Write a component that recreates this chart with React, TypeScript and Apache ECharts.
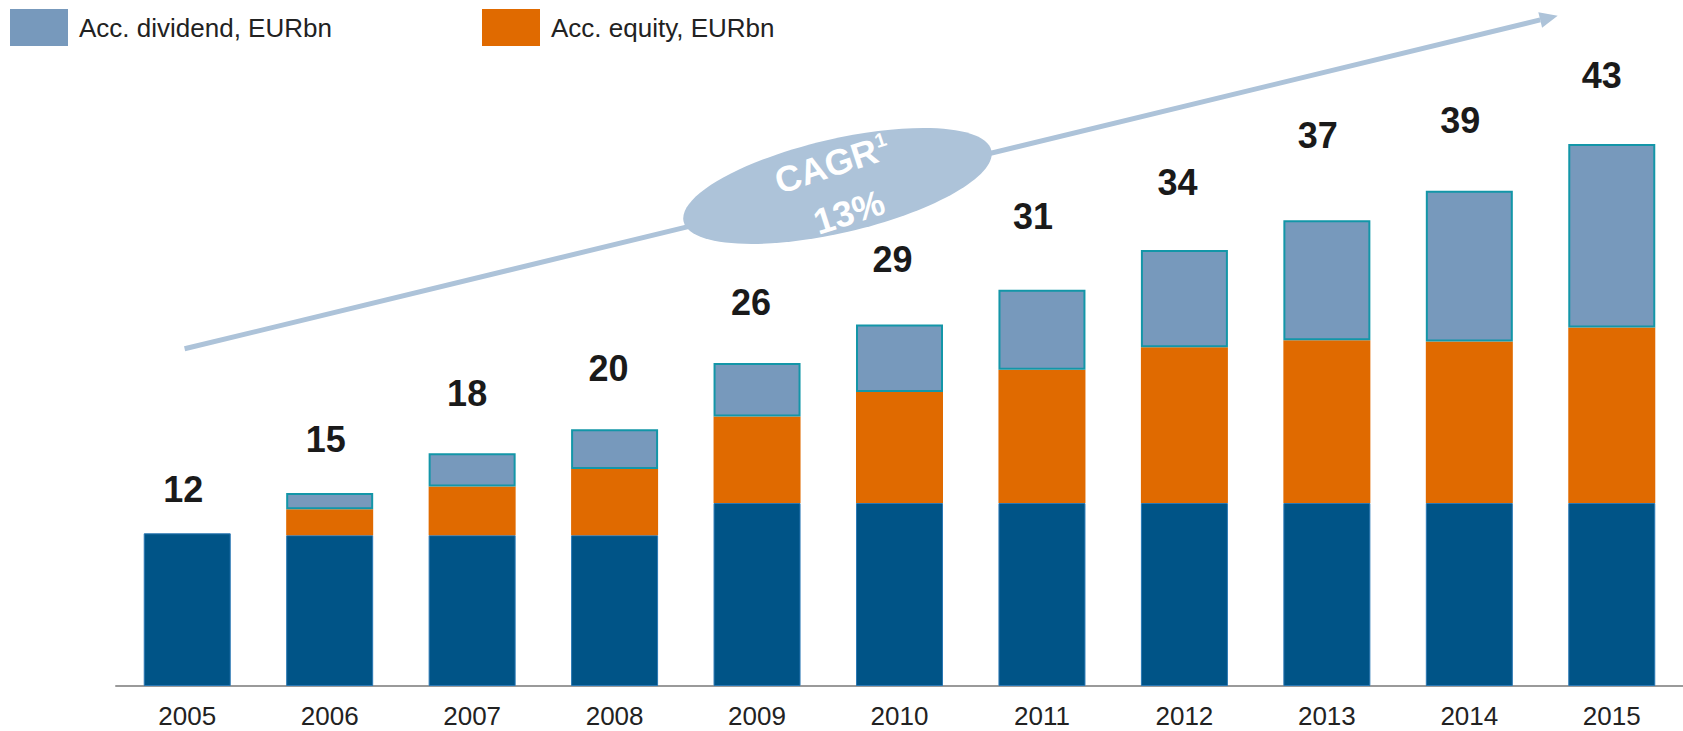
import React, { useEffect, useRef } from "react";
import * as echarts from "echarts";

// ---- data ----
const years = ["2005", "2006", "2007", "2008", "2009", "2010", "2011", "2012", "2013", "2014", "2015"];
const baseValues = [12.1, 11.95, 11.95, 11.95, 14.5, 14.5, 14.5, 14.5, 14.5, 14.5, 14.5];
const equityValues = [0, 2.05, 3.85, 5.25, 6.85, 8.8, 10.55, 12.35, 12.9, 12.8, 13.9];
const dividendValues = [0, 1.3, 2.65, 3.15, 4.25, 5.35, 6.35, 7.7, 9.5, 11.95, 14.55];
const totalLabels = [12, 15, 18, 20, 26, 29, 31, 34, 37, 39, 43];
const dividendName = "Acc. dividend, EURbn";
const equityName = "Acc. equity, EURbn";
const cagrTitle = "CAGR";
const cagrNote = "1";
const cagrValue = "13%";

// ---- label placement (style only) ----
const labelDistances = [26, 35, 42, 43, 42, 47, 55, 49, 67, 52, 50];
const labelShiftX = [-4, -4, -5, -6, -6, -7, -9, -7, -9, -9, -10];

const FONT = 'Arial, "Liberation Sans", Helvetica, sans-serif';
const C_BASE = "#005487";
const C_EQUITY = "#e06a00";
const C_DIV = "#7799bc";
const C_DIV_BORDER = "#1396a8";
const C_ARROW = "#adc3d9";

export default function App() {
  const ref = useRef<HTMLDivElement>(null);

  useEffect(() => {
    document.body.style.margin = "0";
    const chart = echarts.init(ref.current as HTMLDivElement, undefined, { renderer: "svg" });

    const deg = Math.PI / 180;
    // arrow geometry
    const ax1 = 184.6, ay1 = 348.8;
    const tipX = 1557.7, tipY = 15.7;
    const ang = Math.atan2(ay1 - tipY, tipX - ax1);
    const ux = Math.cos(ang), uy = -Math.sin(ang);
    const px = Math.sin(ang), py = Math.cos(ang);
    const headLen = 18, headHalf = 8;
    const bx = tipX - headLen * ux, by = tipY - headLen * uy;

    chart.setOption({
      animation: false,
      textStyle: { fontFamily: FONT },
      grid: { left: 116, right: 0, top: 55, bottom: 45, containLabel: false },
      legend: [
        {
          data: [dividendName],
          left: 10,
          top: 9,
          padding: 0,
          icon: "rect",
          itemWidth: 58,
          itemHeight: 37,
          itemStyle: { borderWidth: 0 },
          textStyle: { fontSize: 26, color: "#222", fontFamily: FONT, padding: [0, 0, 0, 6] },
          selectedMode: false,
        },
        {
          data: [equityName],
          left: 482,
          top: 9,
          padding: 0,
          icon: "rect",
          itemWidth: 58,
          itemHeight: 37,
          itemStyle: { borderWidth: 0 },
          textStyle: { fontSize: 26, color: "#222", fontFamily: FONT, padding: [0, 0, 0, 6] },
          selectedMode: false,
        },
      ],
      xAxis: {
        type: "category",
        data: years,
        axisLine: { show: true, lineStyle: { color: "#9a9a9a", width: 2 } },
        axisTick: { show: false },
        axisLabel: { fontSize: 26, color: "#222", fontFamily: FONT, margin: 17 },
      },
      yAxis: { type: "value", min: 0, max: 50, show: false, splitLine: { show: false } },
      series: [
        {
          name: "Base",
          type: "bar",
          stack: "total",
          barWidth: 87,
          data: baseValues,
          itemStyle: { color: C_BASE, borderColor: "#2a78b4", borderWidth: 1 },
        },
        {
          name: equityName,
          type: "bar",
          stack: "total",
          barWidth: 87,
          data: equityValues,
          itemStyle: { color: C_EQUITY },
        },
        {
          name: dividendName,
          type: "bar",
          stack: "total",
          barWidth: 87,
          data: dividendValues.map((v, i) => ({
            value: v,
            itemStyle: v === 0 ? { borderWidth: 0 } : undefined,
            label: { distance: labelDistances[i], offset: [labelShiftX[i], 0] },
          })),
          itemStyle: { color: C_DIV, borderColor: C_DIV_BORDER, borderWidth: 2 },
          label: {
            show: true,
            position: "top",
            fontSize: 36,
            fontWeight: "bold",
            color: "#1a1a1a",
            fontFamily: FONT,
            formatter: (p: any) => String(totalLabels[p.dataIndex]),
          },
        },
      ],
      graphic: [
        {
          type: "line",
          z: 1,
          shape: { x1: ax1, y1: ay1, x2: bx, y2: by },
          style: { stroke: C_ARROW, lineWidth: 5 },
        },
        {
          type: "polygon",
          z: 1,
          shape: {
            points: [
              [tipX, tipY],
              [bx + headHalf * px, by + headHalf * py],
              [bx - headHalf * px, by - headHalf * py],
            ],
          },
          style: { fill: C_ARROW },
        },
        {
          type: "ellipse",
          z: 2,
          x: 837.5,
          y: 186,
          rotation: 13 * deg,
          shape: { cx: 0, cy: 0, rx: 158, ry: 47 },
          style: { fill: C_ARROW },
        },
        {
          type: "text",
          z: 3,
          x: 832,
          y: 164,
          rotation: 18 * deg,
          style: {
            text: `{m|${cagrTitle}}{s|${cagrNote}}`,
            align: "center",
            verticalAlign: "middle",
            rich: {
              m: { fontSize: 36, fontWeight: "bold", fill: "#ffffff", fontFamily: FONT, lineHeight: 38 },
              s: { fontSize: 20, fontWeight: "bold", fill: "#ffffff", fontFamily: FONT, lineHeight: 38, verticalAlign: "top", padding: [1, 0, 0, 1] },
            },
          },
        },
        {
          type: "text",
          z: 3,
          x: 849,
          y: 212,
          rotation: 18 * deg,
          style: {
            text: cagrValue,
            align: "center",
            verticalAlign: "middle",
            fontSize: 36,
            fontWeight: "bold",
            fill: "#ffffff",
            fontFamily: FONT,
          },
        },
      ],
    });

    return () => chart.dispose();
  }, []);

  return <div ref={ref} style={{ width: 1683, height: 731 }} />;
}
